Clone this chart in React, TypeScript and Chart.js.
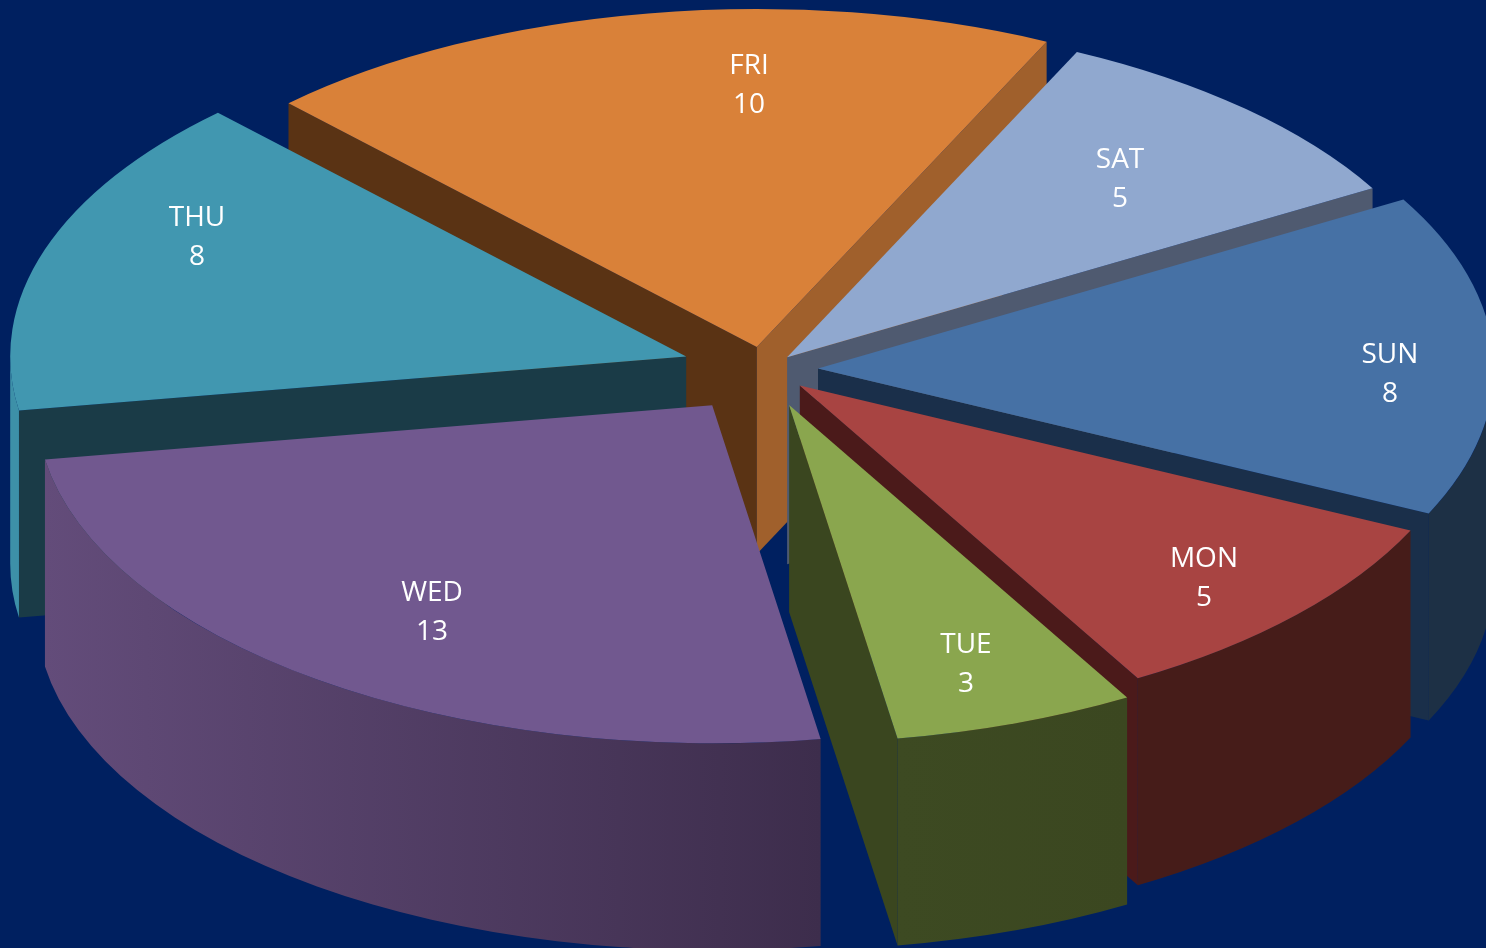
import React, { useEffect, useRef } from "react";
import { Chart, registerables } from "chart.js";

Chart.register(...registerables);

const categories = ["SUN", "MON", "TUE", "WED", "THU", "FRI", "SAT"];
const counts = [8, 5, 3, 13, 8, 10, 5];

// styling of each slice
const topColors = ["#4671a5", "#a84442", "#8aa64e", "#71588f", "#4197b0", "#d98139", "#90a8cf"];
const startFaceColors = ["#1a2f4a", "#4b1a1a", "#3a461f", "#3a2d4a", "#1a3b47", "#5a3314", "#4f5a70"];
const endFaceColors = ["#1a2f4a", "#4b1a1a", "#3a461f", "#3a2d4a", "#1a3b47", "#a0602c", "#4f5a70"];
const rimLeftColors = ["#1d3045", "#461c19", "#3d4a22", "#634c7a", "#3d90a8", "#a0602c", "#4f5a70"];
const rimRightColors = ["#1d3045", "#461c19", "#3b4720", "#3d2d4c", "#3d90a8", "#a0602c", "#4f5a70"];
const sliceShiftX = [53, 34.8, 24.1, -52.8, -78.8, -8.2, 22.1];
const sliceShiftY = [-3.5, 13.6, 32.9, 33.3, -15.6, -25, -14.7];
const labelRadius = [572, 556, 544.7, 497, 545.7, 527, 490];
const labelBearingDeg = [3.11, 0.68, 0.67, -1.45, 7.84, 8.38, 0.11];

const BACKGROUND = "#002060";
const CENTER_X = 765;
const CENTER_Y = 372;
const RADIUS_X = 676;
const RADIUS_Y = 338;
const DEPTH = 207;
const LABEL_NAME_DY = -17.5;
const LABEL_VALUE_DY = 21.5;

const pie3d = {
  id: "pie3d",
  beforeDatasetsDraw(chart: any) {
    const ctx: CanvasRenderingContext2D = chart.ctx;
    const arcs: any[] = chart.getDatasetMeta(0).data;
    const slices = arcs.map((el, i) => {
      const mid = (el.startAngle + el.endAngle) / 2;
      const x = CENTER_X + sliceShiftX[i];
      const y = CENTER_Y + sliceShiftY[i];
      const depthKey = y + (RADIUS_Y / 2) * Math.sin(mid);
      return { el, i, mid, x, y, depthKey };
    });
    const ordered = [...slices].sort((a, b) => a.depthKey - b.depthKey);

    const face = (x: number, y: number, a: number, color: string) => {
      const px = x + RADIUS_X * Math.cos(a);
      const py = y + RADIUS_Y * Math.sin(a);
      ctx.fillStyle = color;
      ctx.beginPath();
      ctx.moveTo(x, y);
      ctx.lineTo(px, py);
      ctx.lineTo(px, py + DEPTH);
      ctx.lineTo(x, y + DEPTH);
      ctx.closePath();
      ctx.fill();
    };

    for (const s of ordered) {
      const { el, i, x, y } = s;
      if (-Math.cos(el.startAngle) > 0) face(x, y, el.startAngle, startFaceColors[i]);
      if (Math.cos(el.endAngle) > 0) face(x, y, el.endAngle, endFaceColors[i]);

      const a = Math.max(el.startAngle, 0);
      const b = Math.min(el.endAngle, Math.PI);
      if (b > a) {
        const xa = x + RADIUS_X * Math.cos(a);
        const xb = x + RADIUS_X * Math.cos(b);
        const grad = ctx.createLinearGradient(xb, 0, xa, 0);
        grad.addColorStop(0, rimLeftColors[i]);
        grad.addColorStop(1, rimRightColors[i]);
        ctx.fillStyle = grad;
        ctx.beginPath();
        ctx.ellipse(x, y, RADIUS_X, RADIUS_Y, 0, a, b);
        ctx.ellipse(x, y + DEPTH, RADIUS_X, RADIUS_Y, 0, b, a, true);
        ctx.closePath();
        ctx.fill();
      }

      ctx.save();
      ctx.translate(x, y);
      ctx.scale(RADIUS_X / el.outerRadius, RADIUS_Y / el.outerRadius);
      ctx.translate(-el.x, -el.y);
      el.draw(ctx);
      ctx.restore();
    }

    ctx.save();
    ctx.fillStyle = "#ffffff";
    ctx.font = '28px "Open Sans", Lato, sans-serif';
    ctx.textAlign = "center";
    ctx.textBaseline = "middle";
    for (const s of slices) {
      const t = s.mid + (labelBearingDeg[s.i] * Math.PI) / 180;
      const lx = s.x + labelRadius[s.i] * Math.cos(t);
      const ly = s.y + (labelRadius[s.i] * Math.sin(t)) / 2;
      ctx.fillText(categories[s.i], lx, ly + LABEL_NAME_DY);
      ctx.fillText(String(counts[s.i]), lx, ly + LABEL_VALUE_DY);
    }
    ctx.restore();
    return false;
  },
};

export default function App() {
  const ref = useRef<HTMLCanvasElement>(null);
  useEffect(() => {
    document.body.style.margin = "0";
    document.body.style.background = BACKGROUND;
    document.documentElement.style.overflow = "hidden";
    const chart = new Chart(ref.current as HTMLCanvasElement, {
      type: "pie",
      data: {
        labels: categories,
        datasets: [{ data: counts, backgroundColor: topColors, borderWidth: 0 }],
      },
      options: {
        animation: false,
        responsive: false,
        rotation: 60,
        plugins: { legend: { display: false }, tooltip: { enabled: false } },
      },
      plugins: [pie3d],
    } as any);
    return () => chart.destroy();
  }, []);
  return (
    <canvas
      ref={ref}
      width={1486}
      height={948}
      style={{ display: "block", width: 1486, height: 948, background: BACKGROUND }}
    />
  );
}
